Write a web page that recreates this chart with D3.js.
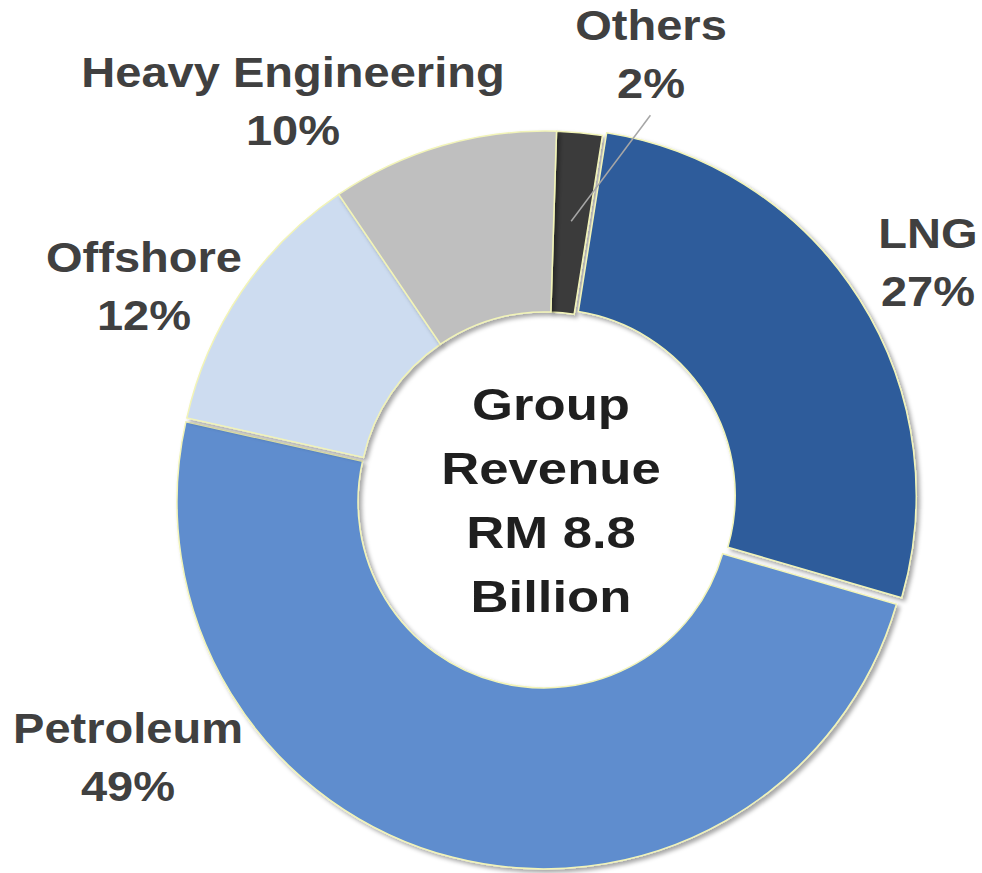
<!DOCTYPE html>
<html>
<head>
<meta charset="utf-8">
<script src="https://cdn.jsdelivr.net/npm/d3@7"></script>
<style>
  body { margin: 0; background: #fff; }
  text { font-family: "Liberation Sans", Arial, sans-serif; font-weight: bold; }
</style>
</head>
<body>
<div id="chart"></div>
<script>
// segment data, clockwise from 12 o'clock
const segments = ['Others', 'LNG', 'Petroleum', 'Offshore', 'Heavy Engineering'];
const shares = [2, 27, 49, 12, 10];
const colors = ['#3a3a3a', '#2d5b9b', '#5f8dce', '#cddcf0', '#bfbfbf'];
const centerLines = ['Group', 'Revenue', 'RM 8.8', 'Billion'];

// label anchor (centre x, first baseline y) for each segment
const labelPos = [[651, 40], [928, 248], [128, 743], [144, 272], [293, 87]];
const explode = [0, 5, 4, 0, 0];

const W = 982, H = 873;
const cx = 545, cy = 498, outerR = 367, innerR = 186;

const svg = d3.select('#chart').append('svg')
  .attr('width', W)
  .attr('height', H);

const defs = svg.append('defs');
const f = defs.append('filter').attr('id', 'shadow')
  .attr('x', '-10%').attr('y', '-10%').attr('width', '120%').attr('height', '120%');
f.append('feDropShadow')
  .attr('dx', 3).attr('dy', 3).attr('stdDeviation', 2)
  .attr('flood-color', '#000').attr('flood-opacity', 0.35);

const data = segments.map((s, i) => ({ name: s, value: shares[i], i }));

const start = 1.8 * Math.PI / 180;
const pie = d3.pie().sort(null).value(d => d.value)
  .startAngle(start).endAngle(start + 2 * Math.PI);
const arcs = pie(data);

const arc = d3.arc().innerRadius(innerR).outerRadius(outerR);

const g = svg.append('g').attr('transform', `translate(${cx},${cy})`);

g.selectAll('path.slice')
  .data(arcs)
  .enter().append('path')
  .attr('class', 'slice')
  .attr('d', arc)
  .attr('fill', d => colors[d.data.i])
  .attr('stroke', '#f2f4b8')
  .attr('stroke-width', 1.5)
  .attr('filter', 'url(#shadow)')
  .attr('transform', d => {
    const a = (d.startAngle + d.endAngle) / 2;
    const o = explode[d.data.i];
    return `translate(${Math.sin(a) * o},${-Math.cos(a) * o})`;
  });

// leader line for the small "Others" slice
const oth = arcs[0];
const mid = (oth.startAngle + oth.endAngle) / 2;
const p1 = [Math.sin(mid) * 278, -Math.cos(mid) * 278];
const a2 = mid + 10 * Math.PI / 180;
const p2 = [Math.sin(a2) * 397, -Math.cos(a2) * 397];
g.append('line')
  .attr('x1', p1[0]).attr('y1', p1[1])
  .attr('x2', p2[0]).attr('y2', p2[1])
  .attr('stroke', '#a6a6a6')
  .attr('stroke-width', 1.5);

// outer labels
const labels = svg.selectAll('g.label')
  .data(arcs)
  .enter().append('g')
  .attr('class', 'label')
  .attr('transform', d => `translate(${labelPos[d.data.i][0]},${labelPos[d.data.i][1]}) scale(1.12,1)`);

labels.append('text')
  .attr('text-anchor', 'middle')
  .attr('font-size', 42)
  .attr('fill', '#404040')
  .text(d => d.data.name);

labels.append('text')
  .attr('text-anchor', 'middle')
  .attr('y', 58)
  .attr('font-size', 42)
  .attr('fill', '#404040')
  .text(d => d.data.value + '%');

// centre text
const ct = svg.append('g').attr('transform', `translate(551,420) scale(1.17,1)`);
ct.selectAll('text')
  .data(centerLines)
  .enter().append('text')
  .attr('text-anchor', 'middle')
  .attr('y', (d, i) => i * 64)
  .attr('font-size', 45)
  .attr('fill', '#1f1f1f')
  .text(d => d);
</script>
</body>
</html>
